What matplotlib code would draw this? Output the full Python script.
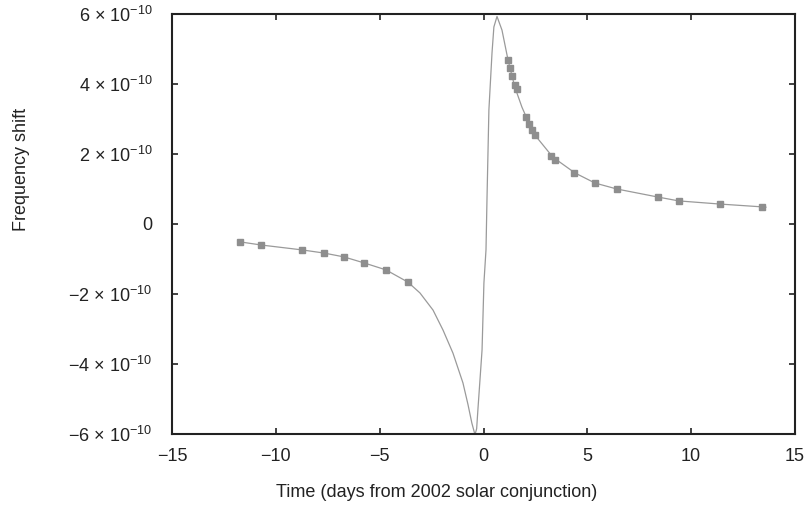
import matplotlib
matplotlib.use("Agg")
import matplotlib.pyplot as plt

plt.rcParams['font.family'] = ['Liberation Sans', 'DejaVu Sans']
plt.rcParams['mathtext.fontset'] = 'custom'
plt.rcParams['mathtext.rm'] = 'Liberation Sans'
plt.rcParams['mathtext.it'] = 'Liberation Sans'

# model curve (days, frequency shift in units of 1e-10)
curve_t = [-11.73, -10.71, -8.74, -7.68, -6.72, -5.76, -4.70, -3.64, -3.06, -2.43,
           -1.95, -1.47, -0.99, -0.75, -0.56, -0.41, -0.33, -0.27, -0.07, 0.02, 0.12, 0.17,
           0.26, 0.41, 0.50, 0.65, 0.89, 1.18, 1.51, 1.85, 2.33, 2.6,
           3.34, 4.4, 5.37, 6.42, 8.4, 9.4, 11.38, 13.4, 13.6]
curve_y = [-0.51, -0.60, -0.74, -0.83, -0.94, -1.11, -1.31, -1.66, -1.97, -2.46,
           -3.03, -3.69, -4.54, -5.15, -5.69, -6.02, -5.85, -5.31, -3.6, -1.69, -0.74, 0.77,
           3.26, 4.89, 5.63, 5.93, 5.54, 4.69, 3.91, 3.34, 2.69, 2.45,
           1.91, 1.46, 1.17, 1.0, 0.77, 0.66, 0.57, 0.49, 0.48]

# measured data points
data_t = [-11.73, -10.71, -8.74, -7.68, -6.72, -5.76, -4.70, -3.64,
          1.18, 1.28, 1.38, 1.50, 1.61, 2.05, 2.20, 2.35, 2.50, 3.25, 3.45,
          4.35, 5.37, 6.42, 8.4, 9.4, 11.38, 13.4]
data_y = [-0.51, -0.60, -0.74, -0.83, -0.94, -1.11, -1.31, -1.66,
          4.69, 4.45, 4.22, 3.98, 3.85, 3.05, 2.85, 2.68, 2.55, 1.95, 1.83,
          1.46, 1.17, 1.0, 0.77, 0.67, 0.57, 0.49]

xticks = [-15, -10, -5, 0, 5, 10, 15]
xtick_labels = ['\u221215', '\u221210', '\u22125', '0', '5', '10', '15']
yticks = [-6, -4, -2, 0, 2, 4, 6]
ytick_labels = ['\u22126 \u00d7 10$^{\u221210}$', '\u22124 \u00d7 10$^{\u221210}$',
                '\u22122 \u00d7 10$^{\u221210}$', '0',
                '2 \u00d7 10$^{\u221210}$', '4 \u00d7 10$^{\u221210}$',
                '6 \u00d7 10$^{\u221210}$']

fig = plt.figure(figsize=(8.08, 5.23), dpi=100)
ax = fig.add_axes([172/808, 1-434/523, 623/808, 420/523])

ax.plot(curve_t, curve_y, color='#9a9a9a', lw=0.9, zorder=2)
ax.plot(data_t, data_y, ls='none', marker='s', ms=4.5, color='#8e8e8e',
        mec='#8e8e8e', zorder=3)

ax.set_xlim(-15, 15)
ax.set_ylim(-6, 6)
ax.set_xticks(xticks)
ax.set_xticklabels(xtick_labels)
ax.set_yticks(yticks)
ax.set_yticklabels(ytick_labels)
ax.tick_params(direction='in', length=4, width=1.2, top=True, right=True,
               labelsize=13, colors='#222222')
ax.tick_params(axis='x', pad=10)
ax.tick_params(axis='y', pad=14)
for s in ax.spines.values():
    s.set_linewidth(1.5)
    s.set_color('#222222')

ax.set_xlabel('Time (days from 2002 solar conjunction)', fontsize=13, color='#222222')
ax.xaxis.set_label_coords(0.425, -0.12)
ax.set_ylabel('Frequency shift', fontsize=13, color='#222222')
ax.yaxis.set_label_coords(-0.228, 0.63)

fig.savefig('out.png', dpi=100)
